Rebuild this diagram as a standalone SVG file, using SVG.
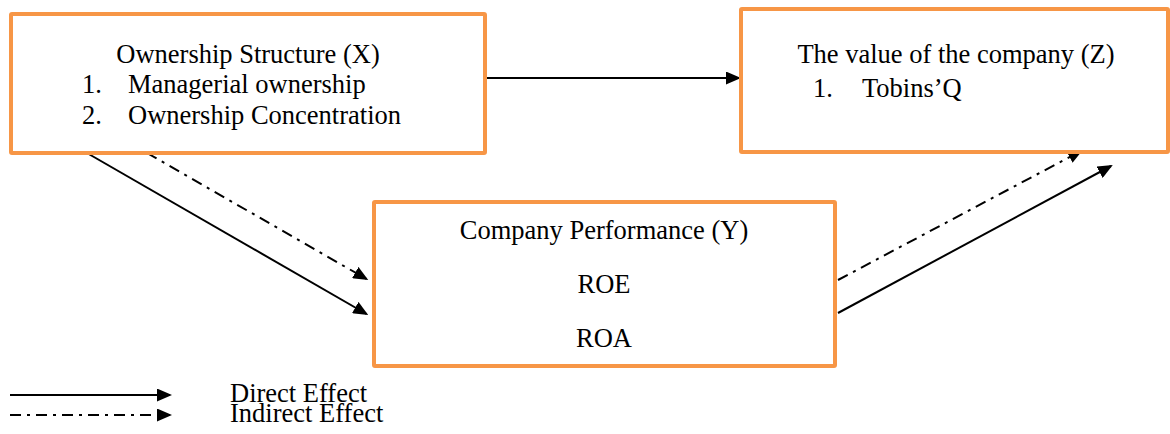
<svg xmlns="http://www.w3.org/2000/svg" width="1170" height="434" viewBox="0 0 1170 434">
<style>
.box{fill:#fff;stroke:#F79646;stroke-width:4;stroke-linejoin:round}
.t{font-family:"Liberation Serif","Times New Roman",serif;font-size:26.5px;fill:#000}
.m{text-anchor:middle}
.ln{stroke:#000;stroke-width:2;fill:none}
.dd{stroke-dasharray:11 6 3 6}
</style>
<defs>
<marker id="ah" viewBox="0 0 15 13" refX="13" refY="6.5" markerWidth="15" markerHeight="13" markerUnits="userSpaceOnUse" orient="auto">
<path d="M0,0 L15,6.5 L0,13 z" fill="#000"/>
</marker>
</defs>
<g id="connectors">
<line class="ln" x1="487" y1="78" x2="739" y2="78" marker-end="url(#ah)"/>
<line class="ln" x1="87" y1="153" x2="366.5" y2="314" marker-end="url(#ah)"/>
<line class="ln dd" x1="147" y1="153" x2="366.5" y2="279" marker-end="url(#ah)"/>
<line class="ln" x1="838" y1="313" x2="1111" y2="166" marker-end="url(#ah)"/>
<line class="ln dd" x1="838" y1="280" x2="1081" y2="151" marker-end="url(#ah)"/>
</g>
<g id="nodeX">
<rect class="box" x="11" y="14" width="474" height="139" rx="1"/>
<text class="t m" x="248" y="62.5">Ownership Structure (X)</text>
<text class="t" x="82" y="93">1.</text>
<text class="t" x="128" y="93">Managerial ownership</text>
<text class="t" x="82" y="123.5">2.</text>
<text class="t" x="128" y="123.5">Ownership Concentration</text>
</g>
<g id="nodeZ">
<rect class="box" x="741" y="9" width="427" height="143" rx="1"/>
<text class="t m" x="956" y="62.5">The value of the company (Z)</text>
<text class="t" x="813" y="96.5">1.</text>
<text class="t" x="862" y="96.5">Tobins’Q</text>
</g>
<g id="nodeY">
<rect class="box" x="374" y="202" width="461" height="164" rx="1"/>
<text class="t m" x="604" y="239">Company Performance (Y)</text>
<text class="t m" x="604" y="292.5">ROE</text>
<text class="t m" x="604" y="347">ROA</text>
</g>
<g id="legend">
<line class="ln" x1="10" y1="395" x2="170" y2="395" marker-end="url(#ah)"/>
<line class="ln dd" x1="10" y1="415" x2="170" y2="415" marker-end="url(#ah)"/>
<text class="t" x="230" y="401.5">Direct Effect</text>
<text class="t" x="230" y="421.5">Indirect Effect</text>
</g>
</svg>
